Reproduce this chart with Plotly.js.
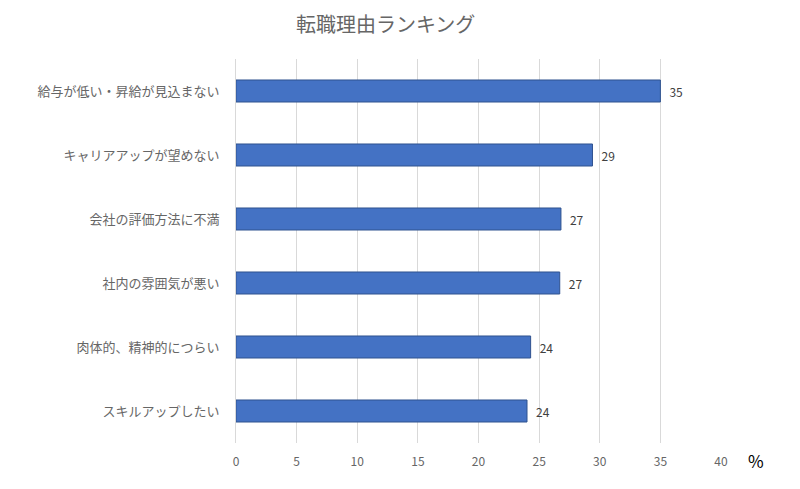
<!DOCTYPE html>
<html>
<head>
<meta charset="utf-8">
<script src="https://cdn.plot.ly/plotly-3.0.1.min.js"></script>
<style>html,body{margin:0;padding:0;background:#fff;}#chart{width:800px;height:489px;}</style>
</head>
<body>
<div id="chart"></div>
<script>
const categories = ["給与が低い・昇給が見込まない","キャリアアップが望めない","会社の評価方法に不満","社内の雰囲気が悪い","肉体的、精神的につらい","スキルアップしたい"];
const values = [35.0, 29.4, 26.8, 26.7, 24.3, 24.0];
const valueLabels = ["35","29","27","27","24","24"];
const xTicks = [0,5,10,15,20,25,30,35,40];
const titleText = "転職理由ランキング";
const unitText = "%";

const font = '"Noto Sans CJK JP", "Noto Sans", sans-serif';

Plotly.newPlot('chart', [{
  type: 'bar',
  orientation: 'h',
  y: categories,
  x: values,
  text: valueLabels,
  texttemplate: '\u2002%{text}',
  textposition: 'outside',
  cliponaxis: false,
  textfont: {family: font, size: 12, color: '#404040'},
  marker: {color: '#4472C4', line: {color: '#2F528F', width: 1}},
  hoverinfo: 'none'
}], {
  width: 800, height: 489,
  margin: {l: 236, r: 79, t: 59, b: 46, pad: 0},
  paper_bgcolor: '#ffffff', plot_bgcolor: '#ffffff',
  bargap: 0.656,
  showlegend: false,
  font: {family: font, color: '#595959'},
  title: {text: titleText, font: {family: font, size: 20, color: '#666666'}, x: 0.482, xref: 'container', xanchor: 'center', y: 0.948, yref: 'container', yanchor: 'middle'},
  xaxis: {
    range: [0, 40], tickvals: xTicks, ticktext: xTicks.map(String),
    showgrid: true, gridcolor: '#d9d9d9', gridwidth: 1,
    zeroline: false, showline: false,
    tickfont: {family: font, size: 12, color: '#666666'},
    ticks: '', ticklabelstandoff: 10, fixedrange: true
  },
  yaxis: {
    autorange: 'reversed', type: 'category',
    showgrid: false, zeroline: false,
    showline: true, linecolor: '#d9d9d9', linewidth: 1,
    tickfont: {family: font, size: 13, color: '#666666'},
    ticks: '', ticklabelstandoff: 13, fixedrange: true
  },
  annotations: [{
    text: unitText, xref: 'paper', yref: 'paper', x: 1.072, y: -0.046,
    xanchor: 'center', yanchor: 'middle', showarrow: false,
    font: {family: font, size: 17, color: '#000000'}
  }]
}, {displayModeBar: false, staticPlot: true});
</script>
</body>
</html>
